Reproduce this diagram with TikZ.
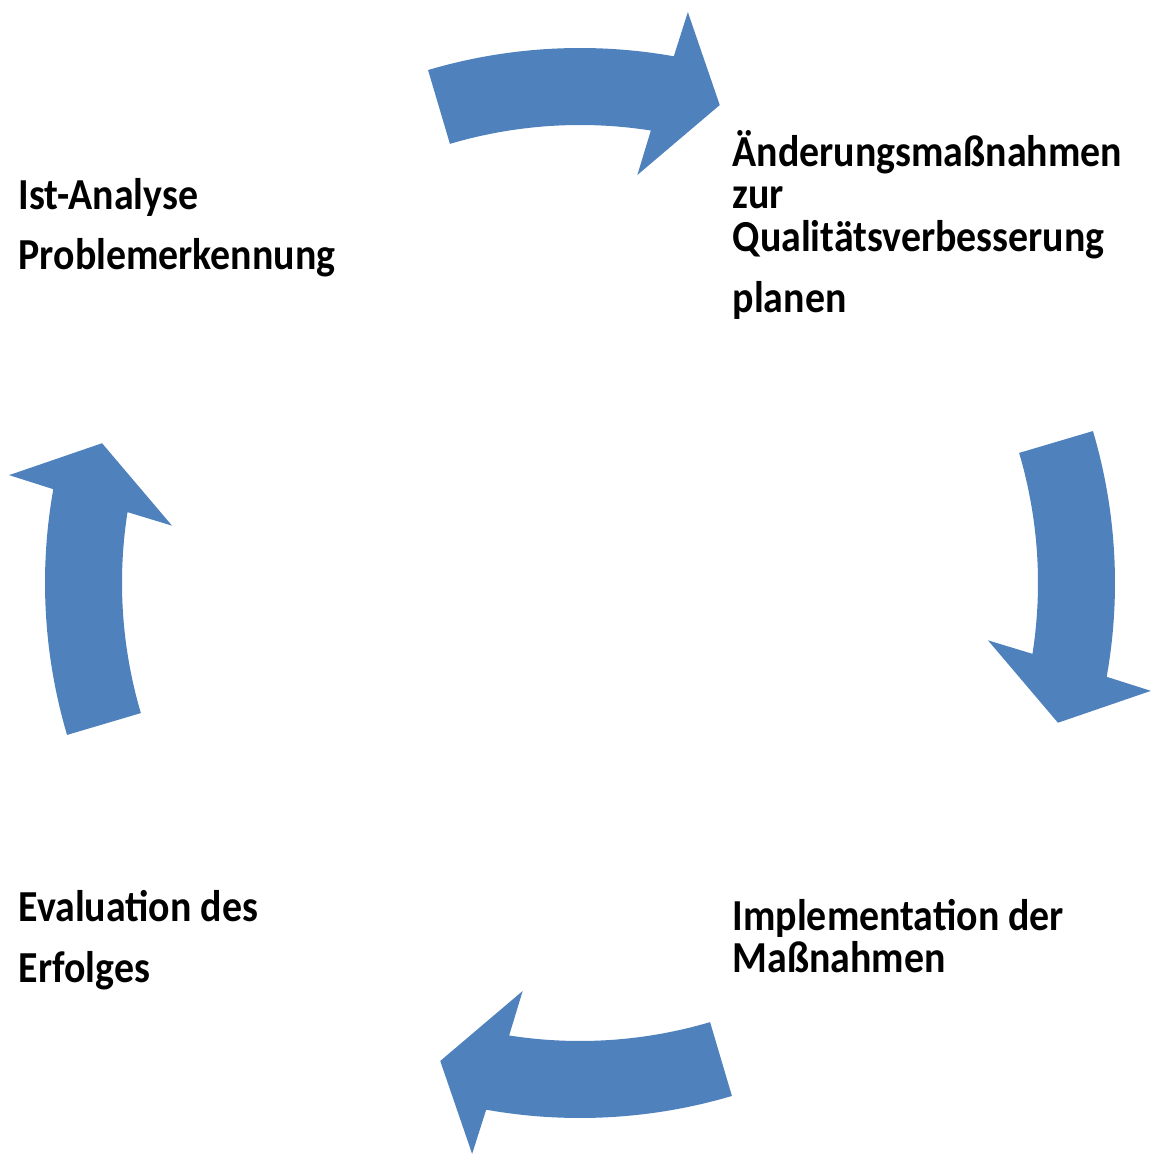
\documentclass[tikz,border=0pt]{standalone}
\usepackage{fontspec}
\setmainfont{Carlito}[FakeStretch=0.9]
\definecolor{cycleblue}{HTML}{4F81BD}

\begin{document}
\begin{tikzpicture}[
    cyclearrow/.style={fill=cycleblue},
    steplabel/.style={anchor=base west, align=left, inner sep=0pt,
        font=\bfseries\fontsize{12.6pt}{12.2pt}\selectfont}
]
    \useasboundingbox (-5.80,-5.72) rectangle (5.73,5.83);
    % four curved arrows round the cycle
    \foreach \rot in {0,-90,-180,-270}
        \fill[cyclearrow, rotate=\rot] (106.5:5.35)
            arc[start angle=106.5, end angle=79.9, radius=5.35]
            -- (79.3:5.81) -- (73.7:4.98) -- (82:4.12) -- (81.1:4.58)
            arc[start angle=81.1, end angle=106.5, radius=4.58] -- cycle;
    % labels (anchored at the baseline of the last line)
    \node[steplabel] (ist) at (-5.62,3.13) {Ist-Analyse\\[4.9pt]Problemerkennung};
    \node[steplabel] (plan) at (1.52,2.70) {Änderungsmaßnahmen\\zur\\Qualitätsverbesserung\\[5.2pt]planen};
    \node[steplabel] (impl) at (1.52,-3.90) {Implementation der\\Maßnahmen};
    \node[steplabel] (eval) at (-5.62,-3.99) {Evaluation des\\[4.9pt]Erfolges};
\end{tikzpicture}
\end{document}
